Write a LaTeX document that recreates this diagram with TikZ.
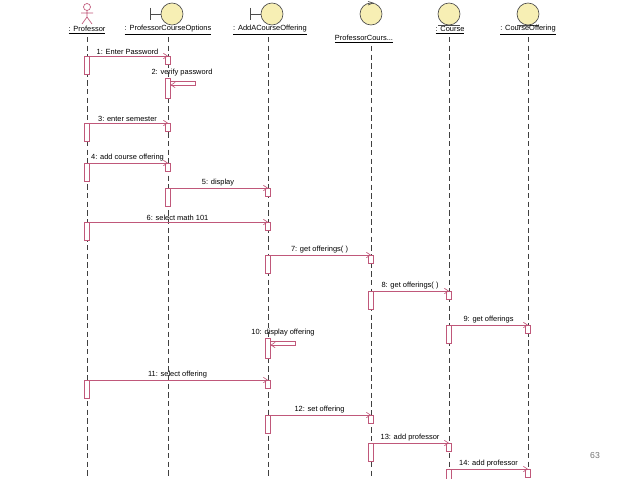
\documentclass[tikz,border=0pt]{standalone}
\usepackage{fontspec}
\setmainfont{Liberation Sans}
\usetikzlibrary{arrows.meta}
\definecolor{pk}{HTML}{C0587A}
\definecolor{yel}{HTML}{F7EFB4}
\tikzset{
 life/.style={draw=black!75,dash pattern=on 4pt off 2.5pt,line width=0.5pt},
 act/.style={draw=pk,fill=white,line width=0.5pt},
 msgline/.style={draw=pk,line width=0.5pt,-{Straight Barb[length=3pt,width=4pt]}},
 lbl/.style={font=\fontsize{5.6pt}{6pt}\selectfont,inner sep=1pt},
 head/.style={font=\fontsize{5.6pt}{6pt}\selectfont,inner sep=0.5pt},
 obj/.style={circle,draw=black!70,fill=yel,minimum size=16.5pt,inner sep=0pt,line width=0.5pt}
}
\newcommand\mymsg[5]{% id, x1, x2, y, label
 \coordinate (s#1) at (#2,#4); \coordinate (t#1) at (#3,#4);
 \draw[act] (#2-2.5,#4) rectangle (#2+2.5,#4+18);
 \draw[act] (#3-2.5,#4) rectangle (#3+2.5,#4+8);
 \draw[msgline] (s#1) -- (t#1);
 \node[lbl,above] at ($(s#1)!0.5!(t#1)$) {#5};}
\usetikzlibrary{calc}
\begin{document}
\begin{tikzpicture}[x=0.75pt,y=-0.75pt]
\useasboundingbox (0,0) rectangle (638,478);
% lifelines
\foreach \x/\n in {87/a,168/b,268/c,371/d,449/e,528/f}{\coordinate (L\n) at (\x,478); }
\coordinate (Ta) at (87,37); \coordinate (Tb) at (168,37); \coordinate (Tc) at (268,37);
\coordinate (Td) at (371,46); \coordinate (Te) at (449,37); \coordinate (Tf) at (528,37);
\foreach \n in {a,b,c,d,e,f}{\draw[life] (T\n) -- (L\n);}
% heads
\begin{scope}[draw=pk,line width=0.5pt]
\draw[pk] (87,7) circle (3.5);
\draw[pk] (87,10.5) -- (87,17) (81,13) -- (93,13) (87,17) -- (82,24) (87,17) -- (92,24);
\end{scope}
\node[obj] (hb) at (172,14) {}; \draw[black!70,line width=0.5pt] (150,8) -- (150,20) (150,14) -- (hb.west);
\node[obj] (hc) at (272,14) {}; \draw[black!70,line width=0.5pt] (250,8) -- (250,20) (250,14) -- (hc.west);
\node[obj] (hd) at (371,14) {}; \draw[black!70,line width=0.5pt] (368,1.5) -- (373,3) -- (368,5);
\node[obj] (he) at (449,14) {}; \draw[black!70,line width=0.5pt] (438,25.5) -- (460,25.5);
\node[obj] (hf) at (528,14) {}; \draw[black!70,line width=0.5pt] (517,25.5) -- (539,25.5);
\node[head] (na) at (87,30) {\underline{: Professor}};
\node[head] (nb) at (168,30) {\underline{: ProfessorCourseOptions}};
\node[head] (nc) at (270,30) {\underline{: AddACourseOffering}};
\node[head] (nd) at (364,39) {\underline{ProfessorCours...}};
\node[head] (ne) at (450,30) {\underline{: Course}};
\node[head] (nf) at (528,30) {\underline{: CourseOffering}};
% messages
\mymsg{1}{87}{168}{56}{1: Enter Password}
\draw[act] (165.5,78) rectangle (170.5,98);
\coordinate (r2a) at (170.5,81); \coordinate (r2b) at (195,81); \coordinate (r2c) at (195,85); \coordinate (r2d) at (170.5,85);
\draw[msgline] (r2a) -- (r2b) -- (r2c) -- (r2d);
\node[lbl,above] at (182,78) {2: verify password};
\mymsg{3}{87}{168}{123}{3: enter semester}
\mymsg{4}{87}{168}{163}{4: add course offering}
\mymsg{5}{168}{268}{188}{5: display}
\mymsg{6}{87}{268}{222}{6: select math 101}
\mymsg{7}{268}{371}{255}{7: get offerings( )}
\mymsg{8}{371}{449}{291}{8: get offerings( )}
\mymsg{9}{449}{528}{325}{9: get offerings}
\draw[act] (265.5,338) rectangle (270.5,358);
\coordinate (r10a) at (270.5,341); \coordinate (r10b) at (295,341); \coordinate (r10c) at (295,345); \coordinate (r10d) at (270.5,345);
\draw[msgline] (r10a) -- (r10b) -- (r10c) -- (r10d);
\node[lbl,above] at (283,338) {10: display offering};
\mymsg{11}{87}{268}{380}{11: select offering}
\mymsg{12}{268}{371}{415}{12: set offering}
\mymsg{13}{371}{449}{443}{13: add professor}
\mymsg{14}{449}{528}{469}{14: add professor}
\node[font=\fontsize{6.5pt}{7pt}\selectfont,text=black!55] (pg) at (595,456) {63};
\end{tikzpicture}
\end{document}
